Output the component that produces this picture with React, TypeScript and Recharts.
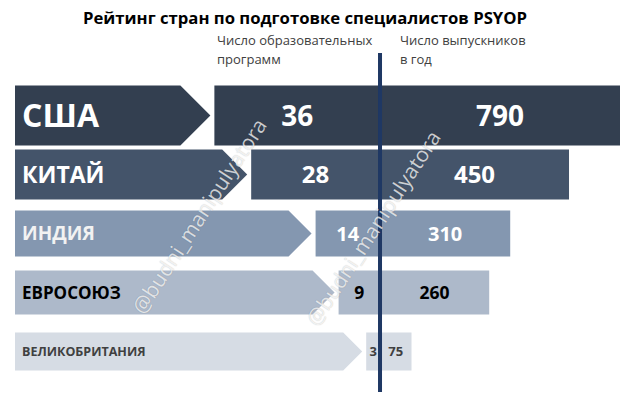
import { BarChart, Bar, XAxis, YAxis, ReferenceLine } from "recharts";

const countries = ["США", "КИТАЙ", "ИНДИЯ", "ЕВРОСОЮЗ", "ВЕЛИКОБРИТАНИЯ"];
const programs = [36, 28, 14, 9, 3];
const graduates = [790, 450, 310, 260, 75];

const title = "Рейтинг стран по подготовке специалистов PSYOP";
const programsCaption = ["Число образовательных", "программ"];
const graduatesCaption = ["Число выпускников", "в год"];
const watermark = "@budni_manipulyatora";

// per-row styling (top to bottom)
const rowFill = ["#333f50", "#44546a", "#8497b0", "#adb9ca", "#d6dce4"];
const rowHeight = [60, 50, 46, 44, 38];
const nameSize = [32, 23, 19, 17, 12.5];
const nameColor = ["#ffffff", "#ffffff", "#f2f2f2", "#000000", "#404040"];
const valueSize = [28, 24, 20, 17.5, 13];
const valueColor = ["#ffffff", "#ffffff", "#ffffff", "#000000", "#404040"];

const W = 620;
const H = 395;
const FONT = "'Open Sans', sans-serif";

const data = countries.map((country, i) => ({
  country,
  programs: programs[i],
  graduates: graduates[i],
}));

function ProgramShape(props: any) {
  const { x, y, width, height, index, payload } = props;
  const left = Math.min(x, x + width);
  const right = Math.max(x, x + width);
  const h = rowHeight[index];
  const cy = y + height / 2;
  const top = cy - h / 2;
  const tip = left - 4;
  const depth = h / 2;
  const pts = `15,${top} ${tip - depth},${top} ${tip},${cy} ${tip - depth},${top + h} 15,${top + h}`;
  // keep the number clear of the divider line
  const labelX = Math.min((left + right) / 2, right - 3 - valueSize[index] * 0.3);
  return (
    <g>
      <polygon points={pts} fill={rowFill[index]} />
      <text
        x={22}
        y={cy + nameSize[index] * 0.36}
        fill={nameColor[index]}
        fontSize={nameSize[index]}
        fontWeight={700}
        fontFamily={FONT}
      >
        {payload.country}
      </text>
      <rect x={left} y={top} width={right - left} height={h} fill={rowFill[index]} />
      <text
        x={labelX}
        y={cy + valueSize[index] * 0.36}
        textAnchor="middle"
        fill={valueColor[index]}
        fontSize={valueSize[index]}
        fontWeight={700}
        fontFamily={FONT}
      >
        {payload.programs}
      </text>
    </g>
  );
}

function GraduateShape(props: any) {
  const { x, y, width, height, index, payload } = props;
  const left = Math.min(x, x + width);
  const right = Math.max(x, x + width);
  const visibleRight = Math.min(right, W);
  const h = rowHeight[index];
  const cy = y + height / 2;
  const top = cy - h / 2;
  return (
    <g>
      <rect x={left} y={top} width={right - left} height={h} fill={rowFill[index]} />
      <text
        x={(left + visibleRight) / 2}
        y={cy + valueSize[index] * 0.36}
        textAnchor="middle"
        fill={valueColor[index]}
        fontSize={valueSize[index]}
        fontWeight={700}
        fontFamily={FONT}
      >
        {payload.graduates}
      </text>
    </g>
  );
}

function DividerLine(props: any) {
  const { x1, y1, y2 } = props;
  const top = Math.min(y1, y2);
  const bottom = Math.max(y1, y2);
  return <line x1={x1} x2={x1} y1={top - 33} y2={bottom + 11} stroke="#1f3864" strokeWidth={4} />;
}

export default function App() {
  return (
    <div style={{ position: "absolute", left: 0, top: 0, width: W, height: H, background: "#fff", fontFamily: FONT }}>
      <BarChart
        width={W}
        height={H}
        data={data}
        layout="vertical"
        margin={{ top: 86, right: 0, bottom: 14, left: 0 }}
        barCategoryGap={0}
      >
        <XAxis xAxisId="p" type="number" hide reversed domain={[-52.17, 82.6]} />
        <XAxis xAxisId="g" type="number" hide allowDataOverflow domain={[-904.8, 571.4]} />
        <YAxis yAxisId="p" type="category" dataKey="country" hide />
        <YAxis yAxisId="g" type="category" dataKey="country" hide />
        <Bar
          dataKey="programs"
          xAxisId="p"
          yAxisId="p"
          shape={ProgramShape}
          isAnimationActive={false}
        />
        <Bar
          dataKey="graduates"
          xAxisId="g"
          yAxisId="g"
          shape={GraduateShape}
          isAnimationActive={false}
        />
        <ReferenceLine xAxisId="g" yAxisId="g" x={0} shape={DividerLine} />
      </BarChart>

      <div
        style={{
          position: "absolute",
          left: 0,
          width: 610,
          top: 6,
          textAlign: "center",
          fontSize: 16.7,
          fontWeight: 700,
          color: "#000",
          whiteSpace: "nowrap",
        }}
      >
        {title}
      </div>
      <div style={{ position: "absolute", left: 217, top: 31, fontSize: 13, lineHeight: "19px", color: "#404040" }}>
        {programsCaption.map((t) => (
          <div key={t}>{t}</div>
        ))}
      </div>
      <div style={{ position: "absolute", left: 400, top: 31, fontSize: 13, lineHeight: "19px", color: "#404040" }}>
        {graduatesCaption.map((t) => (
          <div key={t}>{t}</div>
        ))}
      </div>

      {[
        { cx: 199, cy: 216 },
        { cx: 373, cy: 228 },
      ].map((w, i) => (
        <div
          key={i}
          style={{
            position: "absolute",
            left: w.cx - 140,
            top: w.cy - 14,
            width: 280,
            textAlign: "center",
            fontSize: 21,
            lineHeight: "28px",
            color: "rgba(255,255,255,0.75)",
            textShadow: "0 0 1px rgba(0,0,0,0.25)",
            transform: "rotate(-57deg)",
            whiteSpace: "nowrap",
            pointerEvents: "none",
          }}
        >
          {watermark}
        </div>
      ))}
    </div>
  );
}
